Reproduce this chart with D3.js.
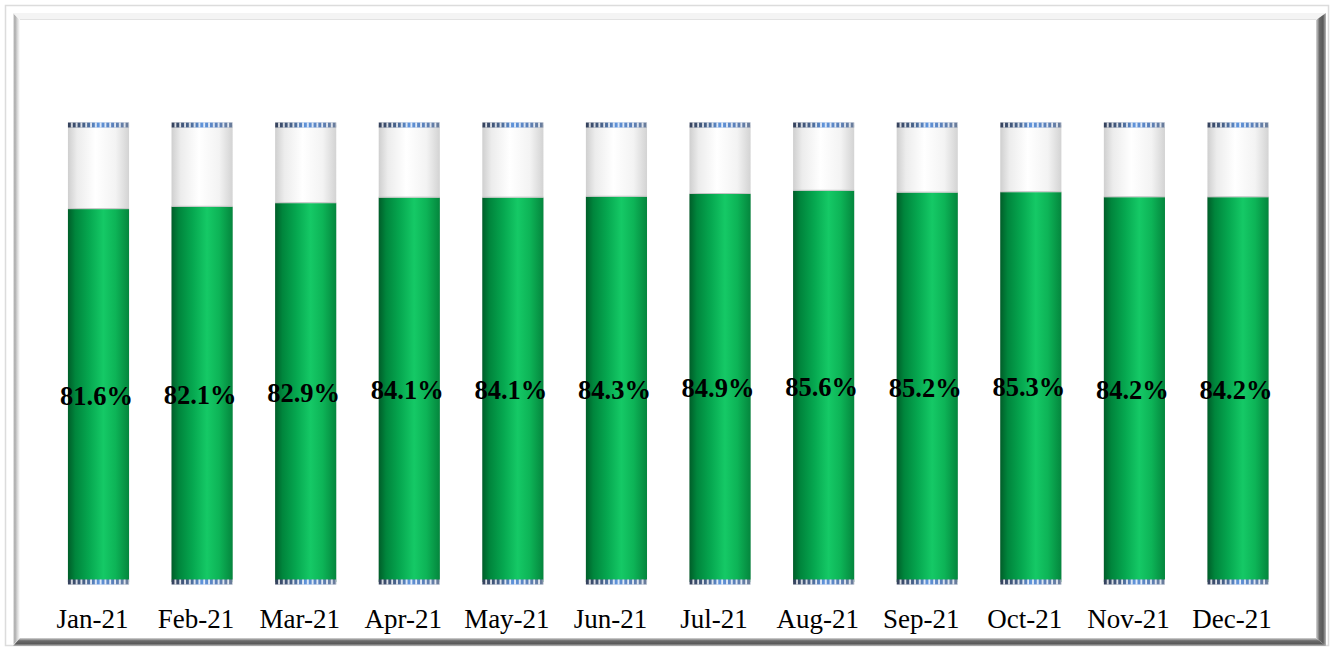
<!DOCTYPE html>
<html>
<head>
<meta charset="utf-8">
<script src="https://cdn.jsdelivr.net/npm/d3@7/dist/d3.min.js"></script>
<style>
  html, body { margin: 0; padding: 0; background: #ffffff; }
  svg { display: block; }
  .tick text { font-family: "Liberation Serif", "Times New Roman", serif; }
</style>
</head>
<body>
<svg id="chart" width="1334" height="650"></svg>
<script>
// Monthly share (%) for 2021
const months = ["Jan-21", "Feb-21", "Mar-21", "Apr-21", "May-21", "Jun-21",
                "Jul-21", "Aug-21", "Sep-21", "Oct-21", "Nov-21", "Dec-21"];
const shareValues = [81.6, 82.1, 82.9, 84.1, 84.1, 84.3, 84.9, 85.6, 85.2, 85.3, 84.2, 84.2];
const yDomain = [0, 100];

const W = 1334, H = 650;
const svg = d3.select("#chart");
const defs = svg.append("defs");

function hGrad(id, stops) {
  const g = defs.append("linearGradient").attr("id", id)
    .attr("x1", "0%").attr("x2", "100%").attr("y1", "0%").attr("y2", "0%");
  stops.forEach(([o, c]) => g.append("stop").attr("offset", o).attr("stop-color", c));
}
function vGrad(id, stops) {
  const g = defs.append("linearGradient").attr("id", id)
    .attr("x1", "0%").attr("x2", "0%").attr("y1", "0%").attr("y2", "100%");
  stops.forEach(([o, c]) => g.append("stop").attr("offset", o).attr("stop-color", c));
}

// cylinder shading
hGrad("greenCyl", [["0%", "#005e29"], ["12%", "#00853c"], ["35%", "#06a850"],
                   ["58%", "#15c966"], ["78%", "#0db457"], ["100%", "#04863d"]]);
hGrad("emptyCyl", [["0%", "#cfcfcf"], ["15%", "#ececec"], ["45%", "#ffffff"],
                   ["78%", "#f3f3f3"], ["100%", "#d3d3d3"]]);
hGrad("capGrad", [["0%", "#34405a"], ["30%", "#4a6690"], ["50%", "#5f94dc"],
                  ["75%", "#5a7fb8"], ["100%", "#6b7c98"]]);
// frame bevels
hGrad("bevelLeft", [["0%", "#f4f4f4"], ["25%", "#a8a8a8"], ["60%", "#d6d6d6"], ["100%", "#ffffff"]]);
hGrad("bevelRight", [["0%", "#d8d8d8"], ["35%", "#6a6a6a"], ["70%", "#5a5a5a"], ["100%", "#b8b8b8"]]);
vGrad("bevelBottom", [["0%", "#d8d8d8"], ["35%", "#6a6a6a"], ["70%", "#5a5a5a"], ["100%", "#b8b8b8"]]);

// white gaps that split the caps into small dashes
const gapPattern = defs.append("pattern").attr("id", "capGaps")
  .attr("patternUnits", "userSpaceOnUse").attr("width", 4.8).attr("height", 10);
gapPattern.append("rect").attr("x", 3).attr("y", 0).attr("width", 1.8).attr("height", 10)
  .attr("fill", "#ffffff").attr("opacity", 0.85);

// picture frame
svg.append("rect").attr("x", 5.5).attr("y", 5.5).attr("width", W - 11).attr("height", H - 10)
  .attr("fill", "#ffffff").attr("stroke", "#dcdcdc").attr("stroke-width", 1.5);
svg.append("polygon").attr("points", "13,13 20,20 20,638 13,645").attr("fill", "url(#bevelLeft)");
svg.append("polygon").attr("points", "13,13 1326,13 1316,20 20,20").attr("fill", "#f4f4f4");
svg.append("line").attr("x1", 20).attr("x2", 1316).attr("y1", 19.5).attr("y2", 19.5)
  .attr("stroke", "#e2e2e2");
svg.append("polygon").attr("points", "1316,20 1326,13 1326,646 1316,638").attr("fill", "url(#bevelRight)");
svg.append("polygon").attr("points", "20,638 1316,638 1326,646 13,646").attr("fill", "url(#bevelBottom)");

// scales
const x = d3.scaleBand().domain(months).range([46.7, 1289.8])
  .paddingInner(0.41).paddingOuter(0.205);
const y = d3.scaleLinear().domain(yDomain).range([582, 125]);
const bw = x.bandwidth();

const bars = svg.append("g").selectAll("g").data(months).join("g")
  .attr("transform", d => `translate(${x(d)},0)`);

// full-height empty tube
bars.append("rect").attr("x", 0).attr("width", bw)
  .attr("y", y(100)).attr("height", y(0) - y(100))
  .attr("fill", "url(#emptyCyl)");

// filled part
bars.append("rect").attr("x", 0).attr("width", bw)
  .attr("y", (d, i) => y(shareValues[i]))
  .attr("height", (d, i) => y(0) - y(shareValues[i]))
  .attr("fill", "url(#greenCyl)");
bars.append("line").attr("x1", 0).attr("x2", bw)
  .attr("y1", (d, i) => y(shareValues[i]) - 0.5).attr("y2", (d, i) => y(shareValues[i]) - 0.5)
  .attr("stroke", "#c4c4c4").attr("stroke-width", 1);

// dotted caps top and bottom
[y(100), y(0)].forEach(cy => {
  bars.append("rect").attr("x", 0).attr("width", bw).attr("y", cy - 2.5).attr("height", 5)
    .attr("fill", "url(#capGrad)");
  bars.append("rect").attr("x", 0).attr("width", bw).attr("y", cy - 2.5).attr("height", 5)
    .attr("fill", "url(#capGaps)");
});

// value labels centred in the filled part
bars.append("text")
  .attr("x", bw / 2 - 2)
  .attr("y", (d, i) => (y(shareValues[i]) + y(0)) / 2)
  .attr("dy", "0.35em")
  .attr("text-anchor", "middle")
  .attr("font-family", "'Liberation Serif', 'Times New Roman', serif")
  .attr("font-weight", "bold")
  .attr("font-size", 26.5)
  .attr("fill", "#000000")
  .text((d, i) => shareValues[i].toFixed(1) + "%");

// category axis
const axis = svg.append("g").attr("transform", "translate(-6,582)")
  .call(d3.axisBottom(x).tickSize(0).tickPadding(27));
axis.select(".domain").remove();
axis.selectAll(".tick text")
  .attr("font-size", 27)
  .attr("fill", "#000000");
</script>
</body>
</html>
